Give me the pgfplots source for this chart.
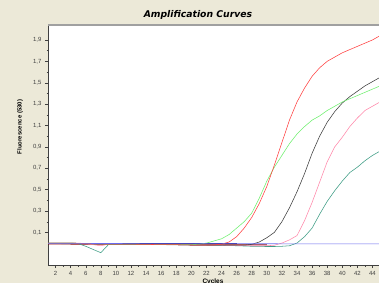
\documentclass[border=0pt]{standalone}
\usepackage{pgfplots}
\pgfplotsset{compat=1.18}
\usepackage{fontspec}
\setmainfont{Liberation Sans}
\newfontfamily\titlefont{DejaVu Sans}
\definecolor{bgc}{RGB}{236,233,216}
\definecolor{cred}{RGB}{255,64,64}
\definecolor{cgreen}{RGB}{110,240,110}
\definecolor{cblack}{RGB}{60,60,60}
\definecolor{cpink}{RGB}{255,136,170}
\definecolor{cteal}{RGB}{60,156,132}
\definecolor{cblue}{RGB}{106,106,240}
\definecolor{cnavy}{RGB}{0,0,96}
\definecolor{cdred}{RGB}{150,0,0}
\definecolor{axc}{RGB}{64,64,64}
\begin{document}
\begin{tikzpicture}
\fill[bgc] (0,0) rectangle (379bp,283bp);
\useasboundingbox (0,0) rectangle (379bp,283bp);
\begin{axis}[
  at={(48bp,18bp)}, anchor=south west,
  scale only axis, width=332bp, height=240bp,
  xmin=1, xmax=45, ymin=-0.205, ymax=2.04,
  axis background/.style={fill=white},
  axis line style={draw=axc, line width=0.6bp},
  xtick={2,4,...,44}, minor x tick num=1,
  ytick={0.1,0.3,...,1.9}, minor y tick num=1,
  xtick pos=lower, ytick pos=left,
  tick align=outside,
  major tick length=3bp, minor tick length=1.5bp,
  tick style={draw=axc, line width=0.4bp},
  tick label style={font=\fontsize{6}{7}\selectfont, text=axc},
  /pgf/number format/assume math mode=true,
  yticklabel style={/pgf/number format/.cd, fixed, fixed zerofill, precision=1, use comma},
  xticklabel style={/pgf/number format/.cd, fixed, precision=0},
  every axis plot/.append style={line width=0.55bp, no marks},
  clip=true,
]
\addplot[cnavy] coordinates {(1,0.0)(26,0.0)};
\addplot[cdred] coordinates {(1,-0.01)(10,-0.012)(20,-0.015)(30,-0.015)};
\addplot[gray] coordinates {(1,-0.005)(10,-0.01)(20,-0.018)(30,-0.02)};
\addplot[cteal] coordinates {(1,0.0)(2,0.0)(3,0.0)(4,0.0)(5,-0.005)(6,-0.03)(7,-0.06)(8,-0.09)(9,-0.015)(10,-0.01)(12,-0.01)(14,-0.012)(16,-0.015)(18,-0.015)(20,-0.018)(22,-0.02)(24,-0.022)(26,-0.025)(28,-0.03)(30,-0.032)(31,-0.032)(32,-0.03)(33,-0.025)(34,0.0)(35,0.06)(36,0.14)(37,0.27)(38,0.39)(39,0.49)(40,0.58)(41,0.66)(42,0.71)(43,0.77)(44,0.82)(45,0.86)};
\addplot[cpink] coordinates {(1,0.0)(2,0.0)(3,0.0)(4,0.0)(5,0.0)(6,-0.005)(7,-0.015)(8,-0.025)(9,-0.01)(10,-0.01)(12,-0.01)(14,-0.012)(16,-0.015)(18,-0.015)(20,-0.018)(22,-0.02)(24,-0.02)(26,-0.022)(28,-0.025)(30,-0.025)(31,-0.02)(32,0.0)(33,0.03)(34,0.07)(35,0.21)(36,0.38)(37,0.57)(38,0.76)(39,0.90)(40,0.99)(41,1.09)(42,1.17)(43,1.24)(44,1.28)(45,1.32)};
\addplot[cblack] coordinates {(1,0.0)(2,0.0)(4,0.0)(6,-0.005)(8,-0.008)(10,-0.01)(12,-0.01)(14,-0.012)(16,-0.015)(18,-0.015)(20,-0.018)(22,-0.02)(24,-0.02)(26,-0.02)(27,-0.02)(28,-0.012)(29,0.01)(30,0.05)(31,0.10)(32,0.20)(33,0.33)(34,0.48)(35,0.65)(36,0.84)(37,1.00)(38,1.13)(39,1.23)(40,1.31)(41,1.37)(42,1.42)(43,1.47)(44,1.51)(45,1.55)};
\addplot[cgreen] coordinates {(1,0.0)(2,0.0)(4,0.0)(6,-0.005)(8,-0.008)(10,-0.01)(12,-0.01)(14,-0.012)(16,-0.012)(18,-0.012)(20,-0.012)(21,-0.01)(22,0.0)(23,0.02)(24,0.04)(25,0.08)(26,0.14)(27,0.20)(28,0.28)(29,0.42)(30,0.58)(31,0.71)(32,0.82)(33,0.93)(34,1.02)(35,1.09)(36,1.15)(37,1.19)(38,1.24)(39,1.28)(40,1.32)(41,1.35)(42,1.38)(43,1.41)(44,1.44)(45,1.47)};
\addplot[cred] coordinates {(1,0.0)(2,0.0)(4,0.0)(6,-0.005)(8,-0.008)(10,-0.01)(12,-0.01)(14,-0.012)(16,-0.015)(18,-0.015)(20,-0.018)(22,-0.02)(23,-0.018)(24,-0.01)(25,0.01)(26,0.06)(27,0.14)(28,0.24)(29,0.37)(30,0.53)(31,0.73)(32,0.94)(33,1.15)(34,1.32)(35,1.45)(36,1.56)(37,1.64)(38,1.70)(39,1.74)(40,1.78)(41,1.81)(42,1.84)(43,1.87)(44,1.90)(45,1.94)};
\addplot[cblue] coordinates {(1,-0.003)(45,-0.008)};
\draw[draw={rgb,255:red,160;green,160;blue,160}, line width=2bp] (rel axis cs:0,1) -- (rel axis cs:1,1);
\end{axis}
\node[font=\titlefont\bfseries\itshape\fontsize{9.3}{10}\selectfont] at (198bp,268.5bp) {Amplification Curves};
\node[font=\bfseries\fontsize{6}{7}\selectfont, rotate=90] at (20bp,156bp) {Fluorescence (530)};
\node[font=\bfseries\fontsize{6.5}{7}\selectfont] at (213bp,1.5bp) {Cycles};
\end{tikzpicture}
\end{document}
